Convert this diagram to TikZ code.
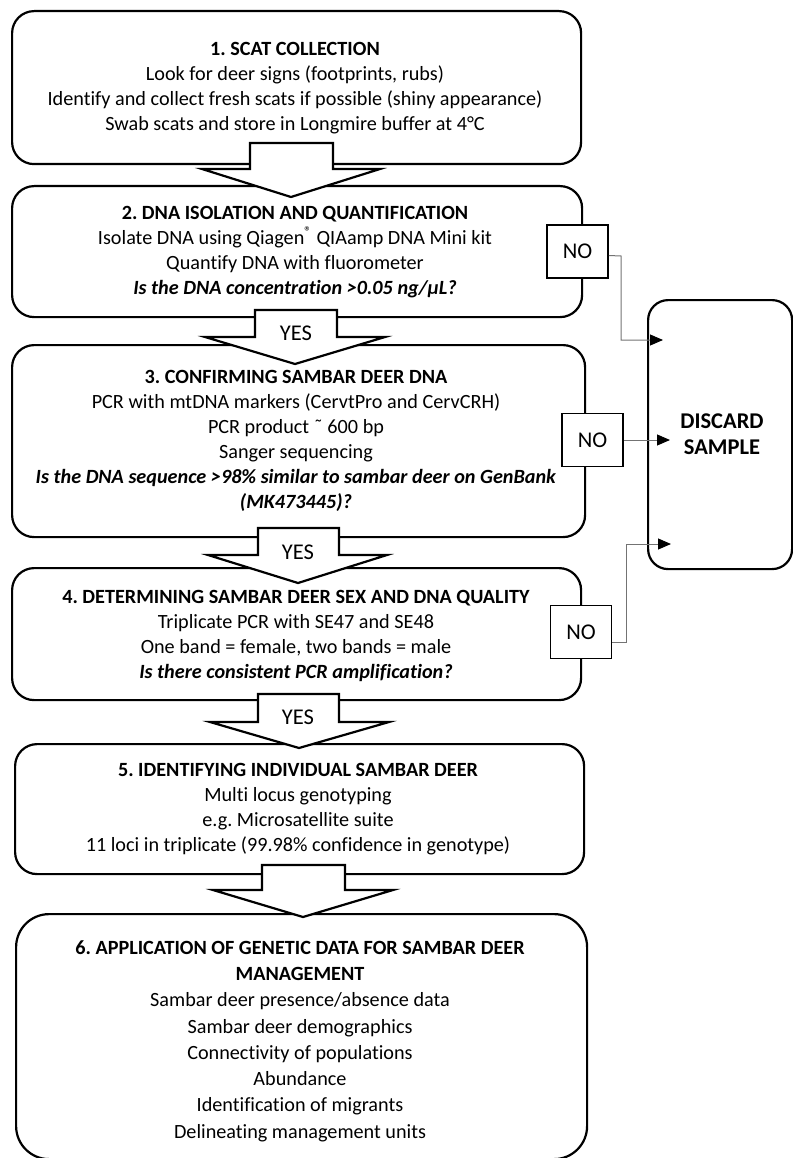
\documentclass[tikz,border=0pt]{standalone}
\usepackage{fontspec}
\setmainfont[Ligatures=NoCommon]{Carlito}
\usetikzlibrary{arrows.meta}
\frenchspacing
\begin{document}
\begin{tikzpicture}[x=1pt,y=-1pt,
  box/.style={draw, line width=2.2pt, rounded corners=22pt, anchor=north west, inner sep=0pt},
  txt/.style={align=center, font=\fontsize{20.2}{25}\selectfont, inner sep=0pt},
  nobox/.style={draw, fill=white, line width=1.8pt, minimum width=61pt, minimum height=53pt, font=\fontsize{22.5}{25}\selectfont, inner sep=0pt},
  conn/.style={draw=black!55, line width=1pt, -{Triangle[length=13pt,width=11pt,color=black]}},
  barrow/.style={draw, fill=white, line width=2.2pt, line join=miter},
  yes/.style={font=\fontsize{22.5}{25}\selectfont, inner sep=0pt}
]
\useasboundingbox (0,0) rectangle (792,1158);

% main boxes
\node[box, minimum width=569pt, minimum height=153pt] (b1) at (11,10) {};
\node[box, minimum width=570pt, minimum height=131pt] (b2) at (11,185) {};
\node[box, minimum width=573pt, minimum height=192pt] (b3) at (11,344) {};
\node[box, minimum width=569pt, minimum height=132pt] (b4) at (11,567) {};
\node[box, minimum width=569pt, minimum height=130pt] (b5) at (14,743) {};
\node[box, rounded corners=33pt, minimum width=571pt, minimum height=245pt] (b6) at (15,913) {};
\node[box, rounded corners=20pt, minimum width=144pt, minimum height=269pt] (dis) at (647,299) {};

% texts
\node[txt] (t1) at (295,88.5) {\textbf{1. SCAT COLLECTION}\\
Look for deer signs (footprints, rubs)\\
Identify and collect fresh scats if possible (shiny appearance)\\
Swab scats and store in Longmire buffer at 4°C};
\node[txt] (t2) at (295,252) {\textbf{2. DNA ISOLATION AND QUANTIFICATION}\\
Isolate DNA using Qiagen\textsuperscript{®} QIAamp DNA Mini kit\\
Quantify DNA with fluorometer\\
\textbf{\textit{Is the DNA concentration >0.05 ng/µL?}}};
\node[txt] (t3) at (296,441) {\textbf{3. CONFIRMING SAMBAR DEER DNA}\\
PCR with mtDNA markers (CervtPro and CervCRH)\\
PCR product ˜ 600 bp\\
Sanger sequencing\\
\textbf{\textit{Is the DNA sequence >98\% similar to sambar deer on GenBank}}\\
\textbf{\textit{(MK473445)?}}};
\node[txt] (t4) at (296,635.5) {\textbf{4. DETERMINING SAMBAR DEER SEX AND DNA QUALITY}\\
Triplicate PCR with SE47 and SE48\\
One band = female, two bands = male\\
\textbf{\textit{Is there consistent PCR amplification?}}};
\node[txt] (t5) at (298,809) {\textbf{5. IDENTIFYING INDIVIDUAL SAMBAR DEER}\\
Multi locus genotyping\\
e.g. Microsatellite suite\\
11 loci in triplicate (99.98\% confidence in genotype)};
\node[txt, font=\fontsize{20.2}{26.3}\selectfont] (t6) at (300,1041) {\textbf{6. APPLICATION OF GENETIC DATA FOR SAMBAR DEER}\\
\textbf{MANAGEMENT}\\
Sambar deer presence/absence data\\
Sambar deer demographics\\
Connectivity of populations\\
Abundance\\
Identification of migrants\\
Delineating management units};
\node[txt, font=\bfseries\fontsize{22.5}{26}\selectfont] (dt) at (722,434) {DISCARD\\SAMPLE};

% block arrows
\draw[barrow] (250,143) -- (333,143) -- (333,169) -- (380,169) -- (291,197) -- (202,169) -- (250,169) -- cycle;
\draw[barrow] (255,310) -- (337,310) -- (337,337) -- (385,337) -- (295,364) -- (205,337) -- (255,337) -- cycle;
\node[yes] (y1) at (296,333) {YES};
\draw[barrow] (258,528) -- (339,528) -- (339,555) -- (387,555) -- (298,583) -- (208,555) -- (258,555) -- cycle;
\node[yes] (y2) at (298,552) {YES};
\draw[barrow] (258,694) -- (339,694) -- (339,722) -- (389,722) -- (299,748) -- (210,722) -- (258,722) -- cycle;
\node[yes] (y3) at (298,717) {YES};
\draw[barrow] (262,865) -- (345,865) -- (345,890) -- (393,890) -- (303,917) -- (213,890) -- (262,890) -- cycle;

% NO boxes
\node[nobox] (n1) at (577.5,251.5) {NO};
\node[nobox] (n2) at (592.5,440) {NO};
\node[nobox] (n3) at (581,632) {NO};

% connectors
\coordinate (a1) at (663,340);
\coordinate (a2) at (670,440);
\coordinate (a3) at (671,544);
\draw[conn] ([yshift=-4pt]n1.east) -- (621,256) |- (a1);
\draw[conn] (n2.east) -- (a2);
\draw[conn] ([yshift=-10pt]n3.east) -- (626,642) |- (a3);
\end{tikzpicture}
\end{document}
